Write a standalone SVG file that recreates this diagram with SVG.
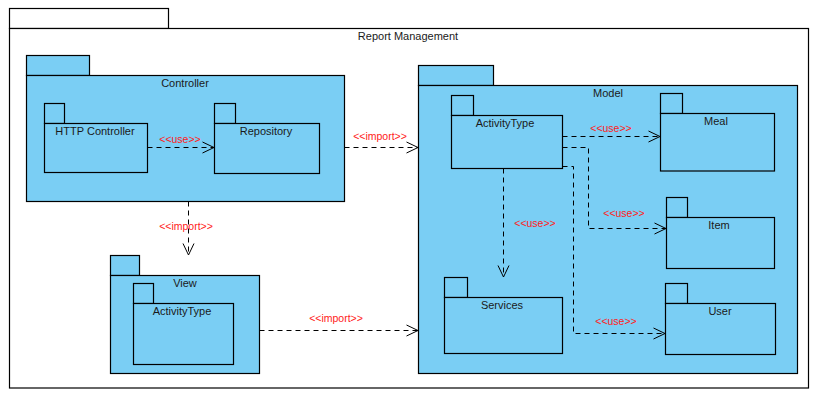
<svg xmlns="http://www.w3.org/2000/svg" width="818" height="400" viewBox="0 0 818 400">
<style>
.outer{fill:#ffffff;stroke:#000;stroke-width:1.2}
.pkg{fill:#7ACEF4;stroke:#000;stroke-width:1.2}
.t{font-family:"Liberation Sans",Arial,sans-serif;font-size:11px;fill:#1a1a1a;text-anchor:middle}
.lbl{font-family:"Liberation Sans",Arial,sans-serif;font-size:10.5px;fill:#ff2020;text-anchor:middle}
.c{fill:none;stroke:#000;stroke-width:1;stroke-dasharray:5,4}
.ah{fill:none;stroke:#000;stroke-width:1}
</style>
<rect width="818" height="400" fill="#fff"/>
<g id="report-management">
<rect class="outer" x="9.5" y="8.5" width="159" height="20"/>
<rect class="outer" x="9.5" y="28.5" width="799" height="359.5"/>
<text class="t" x="408" y="40">Report Management</text>
</g>
<g id="controller">
<rect class="pkg" x="26.5" y="55.5" width="63" height="20"/>
<rect class="pkg" x="26.5" y="75.5" width="318" height="126"/>
<text class="t" x="185" y="87">Controller</text>
</g>
<g id="http-controller">
<rect class="pkg" x="44.5" y="103.5" width="20" height="20"/>
<rect class="pkg" x="44.5" y="123.5" width="103" height="49"/>
<text class="t" x="95" y="135">HTTP Controller</text>
</g>
<g id="repository">
<rect class="pkg" x="214.5" y="103.5" width="21" height="20"/>
<rect class="pkg" x="214.5" y="123.5" width="105" height="50"/>
<text class="t" x="266" y="135">Repository</text>
</g>
<g id="model">
<rect class="pkg" x="418.5" y="65.5" width="75" height="20"/>
<rect class="pkg" x="418.5" y="85.5" width="379" height="288"/>
<text class="t" x="608" y="97">Model</text>
</g>
<g id="model-activitytype">
<rect class="pkg" x="451.5" y="95.5" width="22" height="20"/>
<rect class="pkg" x="451.5" y="115.5" width="111" height="53"/>
<text class="t" x="505" y="127">ActivityType</text>
</g>
<g id="meal">
<rect class="pkg" x="660.5" y="93.5" width="22" height="20"/>
<rect class="pkg" x="660.5" y="113.5" width="114" height="57.5"/>
<text class="t" x="716" y="125">Meal</text>
</g>
<g id="item">
<rect class="pkg" x="666.5" y="197.5" width="21" height="20"/>
<rect class="pkg" x="666.5" y="217.5" width="108" height="51"/>
<text class="t" x="719" y="229">Item</text>
</g>
<g id="user">
<rect class="pkg" x="665.5" y="283.5" width="22" height="20"/>
<rect class="pkg" x="665.5" y="303.5" width="110" height="51"/>
<text class="t" x="720" y="315">User</text>
</g>
<g id="services">
<rect class="pkg" x="444.5" y="277.5" width="23" height="20"/>
<rect class="pkg" x="444.5" y="297.5" width="118" height="56"/>
<text class="t" x="502" y="309">Services</text>
</g>
<g id="view">
<rect class="pkg" x="110.5" y="255.5" width="29" height="20"/>
<rect class="pkg" x="110.5" y="275.5" width="149" height="98"/>
<text class="t" x="185" y="287">View</text>
</g>
<g id="view-activitytype">
<rect class="pkg" x="133.5" y="283.5" width="20" height="20"/>
<rect class="pkg" x="133.5" y="303.5" width="100" height="61"/>
<text class="t" x="182" y="315">ActivityType</text>
</g>
<g id="connectors">
<path class="c" d="M147.5 147.5H214"/>
<path class="ah" d="M202.5 153L214 147.5L202.5 142"/>
<text class="lbl" x="180" y="143">&lt;&lt;use&gt;&gt;</text>

<path class="c" d="M344.5 147.5H418"/>
<path class="ah" d="M406.5 153L418 147.5L406.5 142"/>
<text class="lbl" x="380" y="140">&lt;&lt;import&gt;&gt;</text>

<path class="c" d="M188.5 201.5V255"/>
<path class="ah" d="M183 243.5L188.5 255L194 243.5"/>
<text class="lbl" x="186" y="230">&lt;&lt;import&gt;&gt;</text>

<path class="c" d="M259.5 330.5H418"/>
<path class="ah" d="M406.5 336L418 330.5L406.5 325"/>
<text class="lbl" x="336" y="322">&lt;&lt;import&gt;&gt;</text>

<path class="c" d="M562.5 136.5H660"/>
<path class="ah" d="M648.5 142L660 136.5L648.5 131"/>
<text class="lbl" x="611" y="132">&lt;&lt;use&gt;&gt;</text>

<path class="c" d="M562.5 147.5H588.5V228.5H666"/>
<path class="ah" d="M654.5 234L666 228.5L654.5 223"/>
<text class="lbl" x="624" y="217">&lt;&lt;use&gt;&gt;</text>

<path class="c" d="M562.5 166.5H573.5V333.5H665"/>
<path class="ah" d="M653.5 339L665 333.5L653.5 328"/>
<text class="lbl" x="616" y="325">&lt;&lt;use&gt;&gt;</text>

<path class="c" d="M503.5 168.5V277"/>
<path class="ah" d="M498 265.5L503.5 277L509 265.5"/>
<text class="lbl" x="535" y="227">&lt;&lt;use&gt;&gt;</text>
</g>
</svg>
